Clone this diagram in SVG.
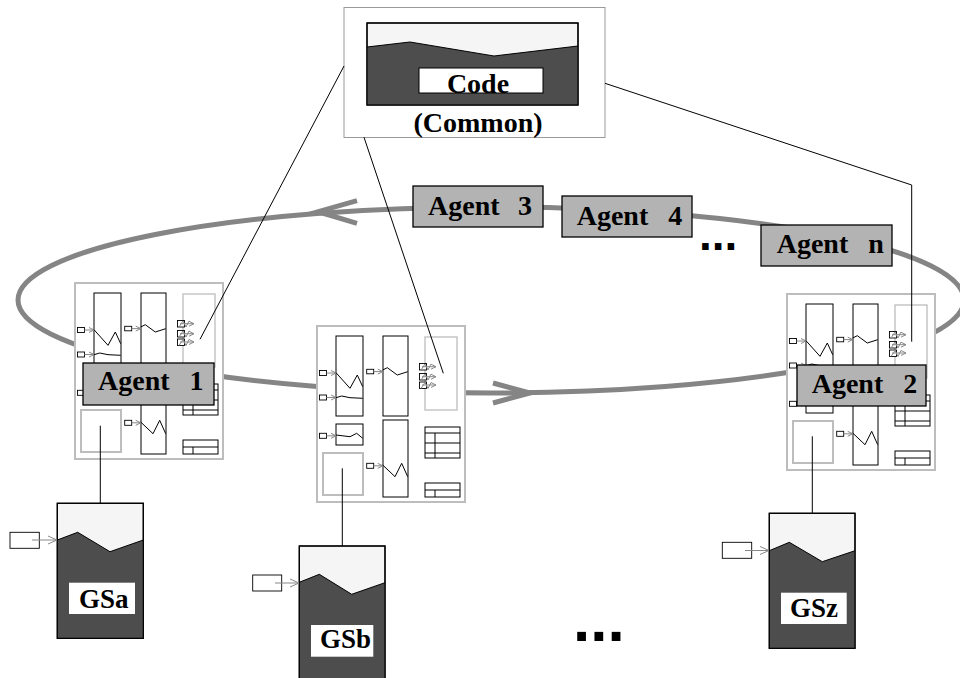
<svg xmlns="http://www.w3.org/2000/svg" width="960" height="678" viewBox="0 0 960 678">
<style>
.frame{fill:#fff;stroke:#bdbdbd;stroke-width:2}
.col{fill:#fff;stroke:#000;stroke-width:1}
.gbox{fill:none;stroke:#bdbdbd;stroke-width:1.3}
.gbox2{fill:none;stroke:#bdbdbd;stroke-width:2}
.ln{fill:none;stroke:#000;stroke-width:1}
.pa{fill:none;stroke:#888;stroke-width:1}
.plug{fill:#fff;stroke:#000;stroke-width:0.9}
.ring{fill:none;stroke:#858585;stroke-width:5}
.lab{fill:#b3b3b3;stroke:#000;stroke-width:1.3}
.t{font-family:"Liberation Serif","Times New Roman",serif;font-weight:bold;fill:#000}
.dots{font-family:"Liberation Sans",Arial,sans-serif;font-weight:bold;fill:#000}
.dark{fill:#4d4d4d}
.light{fill:#f5f5f5;stroke:#000;stroke-width:1.2}
.wbox{fill:#fff;stroke:none}
.conn{fill:none;stroke:#000;stroke-width:1}
</style>
<defs>
<g id="tpl">
<rect class="frame" x="0" y="0" width="148" height="176"/>
<rect class="col" x="19" y="10" width="27" height="80"/>
<rect class="col" x="66" y="10" width="25" height="80"/>
<rect class="gbox" x="108" y="11" width="32" height="73"/>
<rect class="col" x="19" y="98" width="27" height="21"/>
<rect class="col" x="66" y="94" width="25" height="77"/>
<rect class="gbox2" x="6" y="127" width="40" height="42"/>
<rect class="col" x="108" y="101" width="35" height="31"/>
<path class="ln" d="M108 107H143M108 117H143M108 127H143M118 107V132"/>
<rect class="col" x="108" y="157" width="35" height="14"/>
<path class="ln" d="M108 164H143M118 164V171"/>
<rect class="plug" x="2.5" y="44.5" width="7" height="5"/>
<path class="pa" d="M9.5 47H19M14 44.5L19 47L14 49.5"/>
<polyline class="ln" points="19,46.7 33,62.3 40.3,49 45.7,60.7"/>
<rect class="plug" x="2.5" y="69" width="7" height="5"/>
<path class="pa" d="M9.5 71.5H19M14 69L19 71.5L14 74"/>
<polyline class="ln" points="19,71.7 24.7,70 33,71.7 45.7,72.3"/>
<rect class="plug" x="49.7" y="43.3" width="7" height="4.5"/>
<path class="pa" d="M56.7 45.6H65.7M60.7 43.1L65.7 45.6L60.7 48.1"/>
<polyline class="ln" points="65.7,44 70.3,41.7 80.3,49 90.7,45.7"/>
<rect class="plug" x="2.5" y="107.3" width="7" height="5"/>
<path class="pa" d="M9.5 109.8H19M14 107.3L19 109.8L14 112.3"/>
<polyline class="ln" points="19,109 33,110.7 39.7,107.3 45.7,112.3"/>
<rect class="plug" x="49.7" y="137.3" width="7" height="5"/>
<path class="pa" d="M56.7 139.8H65.7M60.7 137.3L65.7 139.8L60.7 142.3"/>
<polyline class="ln" points="65.7,139 78,150.7 84.7,137.3 90.7,150.7"/>
<rect class="plug" x="102.5" y="37.5" width="7" height="6.5"/>
<rect class="plug" x="102.5" y="47.5" width="7" height="6.5"/>
<rect class="plug" x="102.5" y="56" width="7" height="6.5"/>
<path class="pa" d="M105 40.7H119M114 38.2L119 40.7L114 43.2M104 44L108 38L111 44L114 38M105 50.7H119M114 48.2L119 50.7L114 53.2M104 54L108 48L111 54L114 48M105 59H119M114 56.5L119 59L114 61.5M104 62.5L108 56.5L111 62.5L114 56.5"/>
</g>
</defs>

<g id="ring">
<ellipse class="ring" cx="491" cy="300" rx="473" ry="93"/>
<path class="ring" d="M357 200.7L318 211.7L357 223.3"/>
<path class="ring" d="M493 383L530 393L493 403"/>
</g>

<g id="agent1">
<use href="#tpl" transform="translate(75,283)"/>
<rect class="lab" x="83" y="363" width="131" height="42"/>
<text class="t" x="98" y="390" font-size="28" word-spacing="13">Agent 1</text>
</g>

<g id="nodeMiddle">
<use href="#tpl" transform="translate(317,326)"/>
</g>

<g id="agent2">
<use href="#tpl" transform="translate(787,294)"/>
<rect class="lab" x="797" y="365" width="129" height="41"/>
<text class="t" x="811.7" y="393.3" font-size="28" word-spacing="13">Agent 2</text>
</g>

<g id="agent3">
<rect class="lab" x="413" y="186" width="130" height="41"/>
<text class="t" x="428" y="215" font-size="28" word-spacing="11.5">Agent 3</text>
</g>

<g id="agent4">
<rect class="lab" x="562" y="196" width="130" height="41"/>
<text class="t" x="576.7" y="225" font-size="28" word-spacing="13">Agent 4</text>
</g>

<g id="agentN">
<rect class="lab" x="761" y="225" width="131" height="41"/>
<text class="t" x="776.7" y="252.7" font-size="28" word-spacing="13">Agent n</text>
</g>

<g id="code">
<rect x="344" y="7.5" width="261" height="130" fill="#fff" stroke="#999" stroke-width="1"/>
<rect x="367" y="23" width="211" height="82" class="light"/>
<polygon class="dark" points="367,47 410,42 494,56 578,46 578,105 367,105"/>
<polyline class="ln" points="367,47 410,42 494,56 578,46"/>
<rect x="367" y="23" width="211" height="82" fill="none" stroke="#000" stroke-width="1.2"/>
<rect x="419" y="68" width="124" height="25" fill="#fff" stroke="#000" stroke-width="1"/>
<text class="t" x="478" y="93" font-size="28" text-anchor="middle">Code</text>
<text class="t" x="478" y="132" font-size="28" text-anchor="middle">(Common)</text>
</g>

<g id="gsa">
<rect class="light" x="57.3" y="503.3" width="86" height="135"/>
<polygon class="dark" points="57.3,540 77.7,532.3 110,551.7 143.3,540 143.3,638.3 57.3,638.3"/>
<polyline class="ln" points="57.3,540 77.7,532.3 110,551.7 143.3,540"/>
<rect x="57.3" y="503.3" width="86" height="135" fill="none" stroke="#000" stroke-width="1.2"/>
<rect class="wbox" x="69" y="582.7" width="66" height="31.3"/>
<text class="t" x="79" y="608.3" font-size="27">GSa</text>
<rect class="plug" x="10" y="532.3" width="29.3" height="16"/>
<path class="pa" d="M32 540H57M48 536L57 540L48 544"/>
</g>

<g id="gsb">
<rect class="light" x="299.3" y="546" width="85.7" height="140"/>
<polygon class="dark" points="299.3,582.3 319.3,574.3 351.7,594.3 385,582.7 385,686 299.3,686"/>
<polyline class="ln" points="299.3,582.3 319.3,574.3 351.7,594.3 385,582.7"/>
<rect x="299.3" y="546" width="85.7" height="140" fill="none" stroke="#000" stroke-width="1.2"/>
<rect class="wbox" x="311" y="625" width="62.3" height="31.7"/>
<text class="t" x="320" y="648.3" font-size="27">GSb</text>
<rect class="plug" x="252.7" y="575" width="29" height="16"/>
<path class="pa" d="M275 583H299M290 579L299 583L290 587"/>
</g>

<g id="gsz">
<rect class="light" x="769.3" y="513.3" width="85.7" height="135"/>
<polygon class="dark" points="769.3,550.7 789.3,542.3 822.3,561.7 855,550.7 855,648.3 769.3,648.3"/>
<polyline class="ln" points="769.3,550.7 789.3,542.3 822.3,561.7 855,550.7"/>
<rect x="769.3" y="513.3" width="85.7" height="135" fill="none" stroke="#000" stroke-width="1.2"/>
<rect class="wbox" x="781" y="592.7" width="65.7" height="31.3"/>
<text class="t" x="790" y="616.7" font-size="27">GSz</text>
<rect class="plug" x="722.3" y="542.3" width="29.4" height="16"/>
<path class="pa" d="M745 550.5H769M760 546.5L769 550.5L760 554.5"/>
</g>

<text class="dots" x="699" y="250" font-size="46">...</text>
<text class="dots" x="573" y="641" font-size="62">...</text>

<g id="connectors">
<path class="conn" d="M344 66L200 339.3"/>
<path class="conn" d="M364 137.3L443.3 373.3"/>
<path class="conn" d="M605 83.3L911.7 185V341.7"/>
<path class="conn" d="M100.3 425.7V503.3"/>
<path class="conn" d="M342.3 468.3V546"/>
<path class="conn" d="M812.3 436.3V513.3"/>
</g>
</svg>
